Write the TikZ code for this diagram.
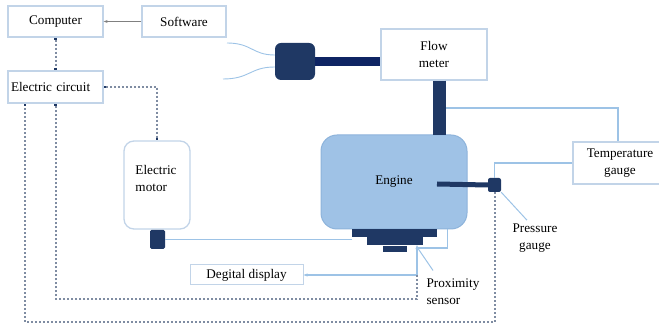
\documentclass[tikz,border=0pt]{standalone}
\usepackage{fontspec}
\setmainfont{Liberation Serif}
\usepackage{xcolor}
\usetikzlibrary{arrows.meta, positioning}

\definecolor{boxline}{HTML}{C2D4E8}
\definecolor{wireblue}{HTML}{9DC3E6}
\definecolor{dotgray}{HTML}{7F8CA2}
\definecolor{navy}{HTML}{1F3864}
\definecolor{pipenavy}{HTML}{0E2463}
\definecolor{enginefill}{HTML}{9FC2E6}
\definecolor{engineline}{HTML}{8DB3DB}

\tikzset{sigdot/.tip={Square[length=2.8pt, width=2.8pt, color=navy]}}

\begin{document}
\begin{tikzpicture}[x=1pt, y=-1pt, font=\fontsize{13.2}{17}\selectfont]
    \tikzstyle{block} = [rectangle, draw=boxline, line width=1.3pt, fill=white, text centered, inner sep=2pt]
    \tikzstyle{part} = [rectangle, rounded corners=1.5pt, fill=navy, inner sep=0pt]
    \tikzstyle{wire} = [draw=wireblue, line width=1.4pt]
    \tikzstyle{sig} = [draw=dotgray, line width=2pt, dash pattern=on 2pt off 2pt]

    \useasboundingbox (0,0) rectangle (659,328);

    % Control side
    \node [block, minimum width=95pt, minimum height=31pt] (computer) at (55.5,21.5) {Computer};
    \node [block, minimum width=84pt, minimum height=31pt] (software) at (184,21.5) {Software};
    \node [block, minimum width=95pt, minimum height=32pt, text width=89pt, align=left] (circuit) at (55.5,87) {Electric circuit};

    % Electric motor and its shaft
    \node [block, rounded corners=10pt, minimum width=66pt, minimum height=88pt] (motor) at (157,185) {};
    \node [align=left] (motortext) at (156,178) {Electric\\motor};
    \node [part, minimum width=15pt, minimum height=19pt] (shaft) at (157.5,239.5) {};

    % Engine with its base
    \node [rectangle, rounded corners=16pt, draw=engineline, line width=1pt, fill=enginefill, minimum width=146pt, minimum height=94pt] (engine) at (394,182) {Engine};
    \node [part, rounded corners=0pt, minimum width=85pt, minimum height=8pt] (base1) at (394.5,233) {};
    \node [part, rounded corners=0pt, minimum width=56pt, minimum height=8pt, below=0pt of base1] (base2) {};
    \node [part, rounded corners=0pt, minimum width=24pt, minimum height=6pt, below=0pt of base2] (base3) {};

    % Fuel line
    \node [block, minimum width=106pt, minimum height=51pt, align=center] (flow) at (434,54.5) {Flow\\meter};
    \node [part, rounded corners=6pt, minimum width=40pt, minimum height=37pt] (injector) at (295,61.5) {};
    \coordinate (hoseA) at (227,43);
    \coordinate (hoseB) at (223,79);

    % Gauges and display
    \node [block, minimum width=94pt, minimum height=42pt, align=center] (temp) at (620,163) {Temperature\\gauge};
    \node [part, rounded corners=2pt, minimum width=13pt, minimum height=14pt] (pressure) at (494.5,185) {};
    \node [align=center] (plabel) at (535,238) {Pressure\\gauge};
    \node [block, line width=1pt, minimum width=113pt, minimum height=20pt] (display) at (246.5,275) {Degital display};
    \node [align=left] (slabel) at (453,292) {Proximity\\sensor};
    \coordinate (rod) at (437,184);
    \coordinate (sensor) at (417,245);
    \coordinate (tap) at (446,108);

    % Pipes
    \draw [pipenavy, line width=9.5pt] (injector.east) -- (injector.east -| flow.west);
    \draw [navy, line width=13pt] ([xshift=5.5pt]flow.south) -- ([xshift=5.5pt, yshift=-1pt]flow.south |- engine.north);
    \draw [navy, line width=5pt] (rod) -- (pressure.west);
    \draw [wireblue, line width=0.9pt] (hoseA) .. controls (252,43) and (252,55) .. ([yshift=6.5pt]injector.west);
    \draw [wireblue, line width=0.9pt] (hoseB) .. controls (250,79) and (250,67) .. ([yshift=-5.5pt]injector.west);

    % Connections
    \draw [-{Stealth[length=4pt, width=3pt]}, draw=gray, line width=0.9pt] (software.west) -- (computer.east);
    \draw [wire] (tap) -| ([xshift=-2pt]temp.north);
    \draw [wire] (temp.west) -| (pressure.north);
    \draw [wire] (shaft.east) -- (shaft.east -| base1.west);
    \draw [wire, {Stealth[length=4pt, width=3pt]}-] (sensor) -- (sensor |- display.east);
    \draw [wire, -{Stealth[length=4pt, width=3pt]}] (sensor |- display.east) -- (display.east);
    \draw [wire] ([xshift=-20pt]engine.south east) |- ([yshift=-3pt]sensor);
    \draw [wireblue, line width=1pt] (pressure.south east) -- ([xshift=-8pt]plabel.north);
    \draw [wireblue, line width=1pt] ([yshift=-2pt]sensor) -- ([xshift=10pt, yshift=5pt]slabel.north west);

    % Signal lines
    \draw [sig, sigdot-sigdot] (computer.south) -- (circuit.north);
    \draw [sig, sigdot-sigdot] (circuit.east) -| (motor.north);
    \draw [sig, -sigdot] (sensor |- display.east) -- ++(0,24) -| (circuit.south);
    \draw [sig, -sigdot] (pressure.south) -- ++(0,130) -| ([xshift=-30.5pt]circuit.south);
\end{tikzpicture}
\end{document}
